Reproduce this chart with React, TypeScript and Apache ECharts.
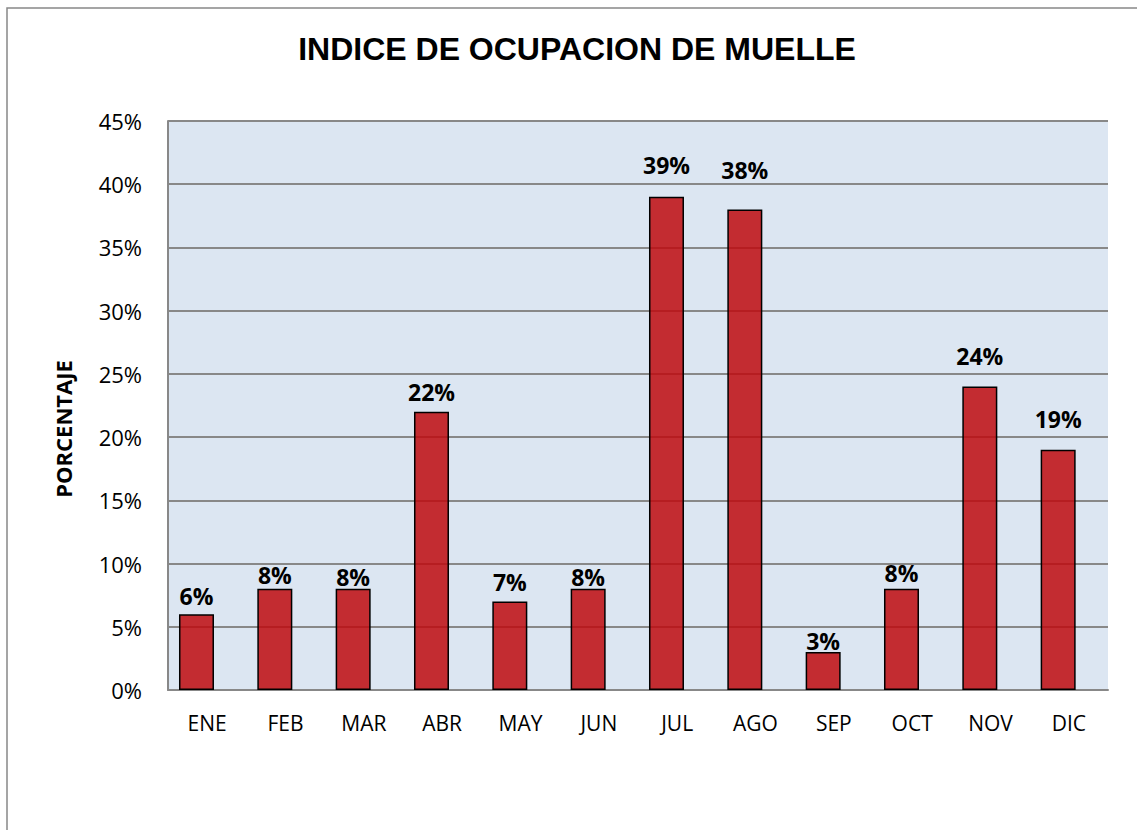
import React, { useEffect, useRef } from "react";
import * as echarts from "echarts";

const title = "INDICE DE OCUPACION DE MUELLE";
const yAxisName = "PORCENTAJE";
const months = ["ENE", "FEB", "MAR", "ABR", "MAY", "JUN", "JUL", "AGO", "SEP", "OCT", "NOV", "DIC"];
const occupancy = [6, 8, 8, 22, 7, 8, 39, 38, 3, 8, 24, 19];
// label distance above each bar (styling only)
const labelGaps = [7, 2, 0, 8, 8, 0, 20, 28, 0, 4, 19, 19];

export default function App() {
  const ref = useRef<HTMLDivElement>(null);
  useEffect(() => {
    if (!ref.current) return;
    const chart = echarts.init(ref.current, null, { renderer: "svg" });
    chart.setOption({
      animation: false,
      backgroundColor: "#ffffff",
      graphic: [
        {
          type: "rect",
          shape: { x: 7, y: 8, width: 1200, height: 900 },
          style: { fill: "none", stroke: "#888888", lineWidth: 1.5 },
          silent: true,
        },
        {
          type: "text",
          x: 577,
          y: 49,
          style: {
            text: title,
            font: "bold 32px 'Liberation Sans'",
            fill: "#000",
            textAlign: "center",
            textVerticalAlign: "middle",
          },
          silent: true,
        },
        {
          type: "text",
          x: 63,
          y: 429,
          rotation: Math.PI / 2,
          style: {
            text: yAxisName,
            font: "bold 22px 'Open Sans'",
            fill: "#000",
            textAlign: "center",
            textVerticalAlign: "middle",
          },
          silent: true,
        },
      ],
      grid: { left: 168, top: 121, right: 29, bottom: 140, show: true, backgroundColor: "#DCE6F2", borderWidth: 0 },
      xAxis: {
        type: "category",
        data: months,
        axisLine: { show: true, lineStyle: { color: "#888888", width: 2 } },
        axisTick: { show: false },
        axisLabel: { fontFamily: "Open Sans", fontSize: 21, color: "#000", margin: 22 },
      },
      yAxis: {
        type: "value",
        min: 0,
        max: 45,
        interval: 5,
        axisLine: { show: true, lineStyle: { color: "#888888", width: 2 } },
        axisTick: { show: false },
        splitLine: { show: true, lineStyle: { color: "#888888", width: 2 } },
        axisLabel: { fontFamily: "Open Sans", fontSize: 22, color: "#000", margin: 26, formatter: "{value}%" },
      },
      series: [
        {
          type: "bar",
          barWidth: 35,
          barGap: "-39%",
          data: occupancy.map((v, i) => ({ value: v, label: { distance: labelGaps[i] } })),
          itemStyle: { color: "rgba(190,10,15,0.85)", borderColor: "#000", borderWidth: 1.5 },
          label: {
            show: true,
            position: "top",
            formatter: "{c}%",
            fontFamily: "Open Sans",
            fontWeight: "bold",
            fontSize: 23,
            color: "#000",
          },
        },
        {
          type: "bar",
          barWidth: 35,
          data: months.map(() => 0),
          itemStyle: { color: "rgba(0,0,0,0)", borderWidth: 0 },
          silent: true,
        },
      ],
    });
    return () => chart.dispose();
  }, []);
  return <div ref={ref} style={{ position: "fixed", left: 0, top: 0, width: 1137, height: 830 }} />;
}
